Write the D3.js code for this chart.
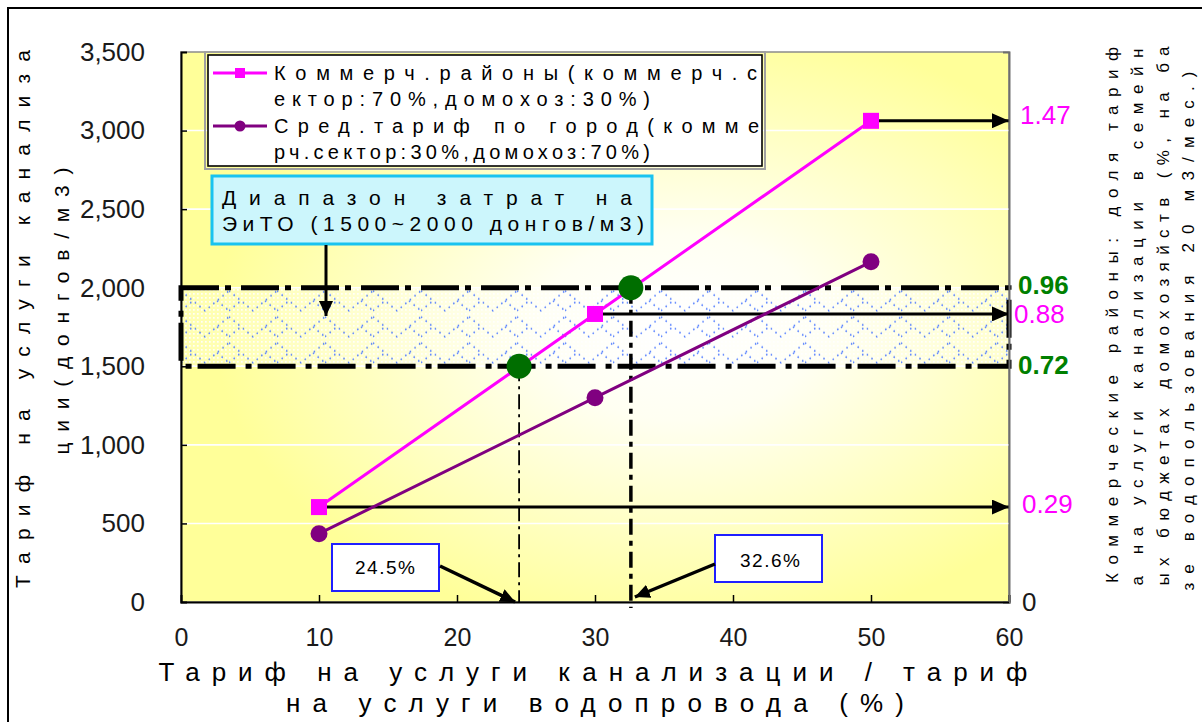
<!DOCTYPE html>
<html>
<head>
<meta charset="utf-8">
<script src="https://cdn.jsdelivr.net/npm/d3@7"></script>
<style>
  html, body { margin: 0; padding: 0; background: #fff; overflow: hidden; }
  svg { display: block; }
</style>
</head>
<body>
<svg id="chart" width="1202" height="722"></svg>
<script>
// ---- data ----
const ratioPct = [10, 30, 50];                 // sewer tariff / water tariff, %
const commercialTariff = [604, 1833, 3062];    // dong per m3
const cityTariff = [435, 1300, 2165];          // dong per m3
const commercialShare = [0.29, 0.88, 1.47];    // share of household budget, %
const costRange = [1500, 2000];                // O&M cost range, dong per m3
const costRangeShare = [0.72, 0.96];
const breakEvenPct = [24.5, 32.6];
const breakEvenLabels = ["24.5%", "32.6%"];
const shareFactor = 0.00048;                   // share (%) per dong of tariff
const yTicks = [0, 500, 1000, 1500, 2000, 2500, 3000, 3500];
const xTicks = [0, 10, 20, 30, 40, 50, 60];
const seriesNames = [
  ["Коммерч.районы(коммерч.с", "ектор:70%,домохоз:30%)"],
  ["Сред.тариф по город(комме", "рч.сектор:30%,домохоз:70%)"]
];
const rangeNote = ["Диапазон затрат на", "ЭиТО (1500~2000 донгов/м3)"];
const xTitle = ["Тариф на услуги канализации / тариф", "на услуги водопровода (%)"];
const yTitle = ["Тариф на услуги канализа", "ции(донгов/м3)"];
const y2Title = [
  "Коммерческие районы: доля тариф",
  "а на услуги канализации в семейн",
  "ых бюджетах домохозяйств (%, на ба",
  "зе водопользования 20 м3/мес.)"
];

// ---- layout ----
const FONT = "'Liberation Sans', Arial, sans-serif";
const P = { left: 181, right: 1009, top: 52, bottom: 602 };
const PINK = "#ff00ff", PURPLE = "#800080", GREEN = "#008000";

const svg = d3.select("#chart");
const x = d3.scaleLinear().domain([0, 60]).range([P.left, P.right]);
const y = d3.scaleLinear().domain([0, 3500]).range([P.bottom, P.top]);
const y2 = d3.scaleLinear().domain([0, 3500 * shareFactor]).range([P.bottom, P.top]);

const defs = svg.append("defs");

// plot background: light centre fading to yellow
const bg = defs.append("radialGradient").attr("id", "plotBg")
  .attr("cx", 0.6).attr("cy", 0.5).attr("r", 0.56);
bg.append("stop").attr("offset", 0).attr("stop-color", "#ffffff");
bg.append("stop").attr("offset", 0.3).attr("stop-color", "#fffff2");
bg.append("stop").attr("offset", 1).attr("stop-color", "#ffff99");

// band fill: fine white dot grid plus blue dotted zigzags
const dotPat = defs.append("pattern").attr("id", "whiteDots")
  .attr("patternUnits", "userSpaceOnUse").attr("width", 4).attr("height", 4);
dotPat.append("rect").attr("x", 1).attr("y", 1).attr("width", 1.7).attr("height", 1.7).attr("fill", "#ffffff");
const zigPat = defs.append("pattern").attr("id", "blueZig")
  .attr("patternUnits", "userSpaceOnUse").attr("width", 48).attr("height", 26)
  .attr("x", P.left).attr("y", y(2000));
zigPat.append("path").attr("d", "M0,3 L24,23 L48,3").attr("fill", "none")
  .attr("stroke", "#3f6fff").attr("stroke-width", 1.5).attr("stroke-dasharray", "1.5,4.5");
zigPat.append("path").attr("d", "M0,23 L12,13 M36,13 L48,23").attr("fill", "none")
  .attr("stroke", "#3f6fff").attr("stroke-width", 1.5).attr("stroke-dasharray", "1.5,4.5");

function arrowMarker(id, len, wid) {
  defs.append("marker").attr("id", id)
    .attr("viewBox", `0 0 ${len} ${wid}`)
    .attr("refX", len).attr("refY", wid / 2)
    .attr("markerWidth", len).attr("markerHeight", wid)
    .attr("markerUnits", "userSpaceOnUse").attr("orient", "auto")
    .append("path").attr("d", `M0,0L${len},${wid / 2}L0,${wid}Z`).attr("fill", "#000");
}
arrowMarker("arrowBig", 17, 15);
arrowMarker("arrowMid", 15, 14);

// outer chart border
svg.append("rect").attr("x", 8).attr("y", 8).attr("width", 1260).attr("height", 780)
  .attr("fill", "none").attr("stroke", "#000").attr("stroke-width", 2);

// plot area
svg.append("rect").attr("x", P.left).attr("y", P.top)
  .attr("width", P.right - P.left).attr("height", P.bottom - P.top)
  .attr("fill", "url(#plotBg)").attr("stroke", "#8c8c8c").attr("stroke-width", 1.5);

// white gridlines
svg.append("g").selectAll("line").data(yTicks.filter(d => d > 0 && d < 3500)).join("line")
  .attr("x1", P.left).attr("x2", P.right)
  .attr("y1", d => y(d)).attr("y2", d => y(d))
  .attr("stroke", "#ffffff").attr("stroke-width", 1.6);

// O&M cost band
const band = svg.append("g");
const bandRect = () => band.append("rect").attr("x", x(0)).attr("y", y(costRange[1]))
  .attr("width", x(60) - x(0)).attr("height", y(costRange[0]) - y(costRange[1]));
bandRect().attr("fill", "rgba(255,255,255,0.25)");
bandRect().attr("fill", "url(#whiteDots)").attr("opacity", 0.9);
bandRect().attr("fill", "url(#blueZig)");
bandRect().attr("fill", "none").attr("stroke", "#000").attr("stroke-width", 5)
  .attr("stroke-dasharray", "38,6,6,10");

// drop lines from the break-even points to the x axis
svg.append("line")
  .attr("x1", x(breakEvenPct[0])).attr("x2", x(breakEvenPct[0]))
  .attr("y1", y(costRange[0])).attr("y2", P.bottom)
  .attr("stroke", "#000").attr("stroke-width", 1.8).attr("stroke-dasharray", "15,5,3,5");
svg.append("line")
  .attr("x1", x(breakEvenPct[1])).attr("x2", x(breakEvenPct[1]))
  .attr("y1", y(costRange[1])).attr("y2", P.bottom + 6)
  .attr("stroke", "#000").attr("stroke-width", 3.5).attr("stroke-dasharray", "16,6,5,6");

// arrows from commercial points to the share axis
svg.append("g").selectAll("line").data(ratioPct).join("line")
  .attr("x1", d => x(d)).attr("x2", P.right)
  .attr("y1", (d, i) => y2(commercialShare[i])).attr("y2", (d, i) => y2(commercialShare[i]))
  .attr("stroke", "#000").attr("stroke-width", 3)
  .attr("marker-end", "url(#arrowBig)");

// series
const line = d3.line().x(d => x(d[0])).y(d => y(d[1]));
const commercialPts = ratioPct.map((d, i) => [d, commercialTariff[i]]);
const cityPts = ratioPct.map((d, i) => [d, cityTariff[i]]);

svg.append("path").datum(cityPts).attr("d", line)
  .attr("fill", "none").attr("stroke", PURPLE).attr("stroke-width", 3);
svg.append("g").selectAll("circle").data(cityPts).join("circle")
  .attr("cx", d => x(d[0])).attr("cy", d => y(d[1])).attr("r", 8.5).attr("fill", PURPLE);

svg.append("path").datum(commercialPts).attr("d", line)
  .attr("fill", "none").attr("stroke", PINK).attr("stroke-width", 3);
svg.append("g").selectAll("rect").data(commercialPts).join("rect")
  .attr("x", d => x(d[0]) - 8).attr("y", d => y(d[1]) - 8)
  .attr("width", 16).attr("height", 16).attr("fill", PINK);

// break-even points
svg.append("g").selectAll("circle").data(breakEvenPct).join("circle")
  .attr("cx", d => x(d)).attr("cy", (d, i) => y(costRange[i])).attr("r", 12.5)
  .attr("fill", "#006e00");

// axes
const yAxis = svg.append("g").attr("transform", `translate(${P.left},0)`)
  .call(d3.axisLeft(y).tickValues(yTicks).tickSize(-6).tickPadding(36).tickFormat(d3.format(",")));
const xAxis = svg.append("g").attr("transform", `translate(0,${P.bottom})`)
  .call(d3.axisBottom(x).tickValues(xTicks).tickSize(-7).tickPadding(26).tickFormat(d3.format("d")));
const y2Axis = svg.append("g").attr("transform", `translate(${P.right},0)`)
  .call(d3.axisRight(y2).tickValues([0]).tickSize(-6).tickPadding(13).tickFormat(d3.format("d")));
[yAxis, xAxis].forEach(g => {
  g.select(".domain").attr("stroke", "#000").attr("stroke-width", 2);
  g.selectAll(".tick line").attr("stroke", "#000").attr("stroke-width", 1.5);
  g.selectAll(".tick text").attr("font-family", FONT).attr("font-size", 26).attr("fill", "#1a1a1a");
});
xAxis.selectAll(".tick text").attr("font-size", 25);
y2Axis.select(".domain").attr("stroke", "#6e6e6e").attr("stroke-width", 2);
y2Axis.selectAll(".tick line").attr("stroke", "#000").attr("stroke-width", 1.5);
y2Axis.selectAll(".tick text").attr("font-family", FONT).attr("font-size", 26).attr("fill", "#1a1a1a");
xAxis.selectAll(".tick").filter(d => d === 0).select("line").remove();
yAxis.selectAll(".tick").filter(d => d === 0 || d === 3500).select("line").remove();

// share labels on the right
const rightLabels = [
  { v: commercialShare[2], t: commercialShare[2].toFixed(2), c: PINK, w: "normal", dx: 11, dy: -6 },
  { v: costRangeShare[1], t: costRangeShare[1].toFixed(2), c: GREEN, w: "bold", dx: 9, dy: -3 },
  { v: commercialShare[1], t: commercialShare[1].toFixed(2), c: PINK, w: "normal", dx: 5, dy: 0 },
  { v: costRangeShare[0], t: costRangeShare[0].toFixed(2), c: GREEN, w: "bold", dx: 9, dy: -2 },
  { v: commercialShare[0], t: commercialShare[0].toFixed(2), c: PINK, w: "normal", dx: 13, dy: -3 }
];
svg.append("g").selectAll("text").data(rightLabels).join("text")
  .attr("x", d => P.right + d.dx).attr("y", d => y2(d.v) + d.dy)
  .attr("dy", "0.36em").attr("font-family", FONT).attr("font-size", 26)
  .attr("font-weight", d => d.w).attr("fill", d => d.c).text(d => d.t);

// legend
const lg = svg.append("g");
lg.append("rect").attr("x", 205).attr("y", 52).attr("width", 560).attr("height", 117)
  .attr("fill", "none").attr("stroke", "#a0a0a0").attr("stroke-width", 2);
lg.append("rect").attr("x", 208).attr("y", 55).attr("width", 554).attr("height", 111)
  .attr("fill", "#ffffff").attr("stroke", "#000").attr("stroke-width", 1.6);
const legendRows = [
  { color: PINK, shape: "square", ys: [73, 99] },
  { color: PURPLE, shape: "circle", ys: [126, 152] }
];
const legendLens = [[483, 376], [485, 376]];
legendRows.forEach((r, i) => {
  lg.append("line").attr("x1", 213).attr("x2", 267).attr("y1", r.ys[0]).attr("y2", r.ys[0])
    .attr("stroke", r.color).attr("stroke-width", 3);
  if (r.shape === "square") {
    lg.append("rect").attr("x", 235).attr("y", r.ys[0] - 5).attr("width", 10).attr("height", 10).attr("fill", r.color);
  } else {
    lg.append("circle").attr("cx", 240).attr("cy", r.ys[0]).attr("r", 5.5).attr("fill", r.color);
  }
  seriesNames[i].forEach((t, j) => {
    lg.append("text").attr("x", 274).attr("y", r.ys[j]).attr("dy", "0.36em")
      .attr("font-family", FONT).attr("font-size", 20).attr("fill", "#000")
      .attr("textLength", legendLens[i][j]).attr("lengthAdjust", "spacing").text(t);
  });
});

// O&M range note with arrow into the band
const note = svg.append("g");
note.append("rect").attr("x", 212).attr("y", 176).attr("width", 440).attr("height", 68)
  .attr("fill", "#ccf6fc").attr("stroke", "#19c3f0").attr("stroke-width", 3);
note.selectAll("text").data(rangeNote).join("text")
  .attr("x", 222).attr("y", (d, i) => 197 + i * 26).attr("dy", "0.36em")
  .attr("font-family", FONT).attr("font-size", 21).attr("fill", "#000")
  .attr("textLength", (d, i) => [410, 422][i]).attr("lengthAdjust", "spacing")
  .text(d => d);
note.append("line").attr("x1", 326).attr("x2", 326).attr("y1", 245).attr("y2", 316)
  .attr("stroke", "#000").attr("stroke-width", 3).attr("marker-end", "url(#arrowMid)");

// break-even callouts
const callouts = [
  { box: [332, 544, 107, 47], from: [440, 566], tx: 385, ty: 567 },
  { box: [715, 535, 107, 47], from: [715, 564], tx: 770, ty: 560 }
];
callouts.forEach((c, i) => {
  svg.append("rect").attr("x", c.box[0]).attr("y", c.box[1]).attr("width", c.box[2]).attr("height", c.box[3])
    .attr("fill", "#fff").attr("stroke", "#1f1fff").attr("stroke-width", 2);
  svg.append("text").attr("x", c.tx).attr("y", c.ty).attr("dy", "0.36em")
    .attr("text-anchor", "middle").attr("font-family", FONT).attr("font-size", 19)
    .attr("textLength", 60).attr("lengthAdjust", "spacing").attr("fill", "#000")
    .text(breakEvenLabels[i]);
  svg.append("line").attr("x1", c.from[0]).attr("y1", c.from[1])
    .attr("x2", x(breakEvenPct[i]) + (i === 0 ? -4 : 4)).attr("y2", P.bottom - (i === 0 ? 0 : 5))
    .attr("stroke", "#000").attr("stroke-width", 3.5).attr("marker-end", "url(#arrowMid)");
});

// axis titles
svg.append("g").selectAll("text").data(xTitle).join("text")
  .attr("x", (d, i) => [593, 595][i]).attr("y", (d, i) => 672 + i * 31).attr("dy", "0.36em")
  .attr("text-anchor", "middle").attr("font-family", FONT).attr("font-size", 26).attr("fill", "#000")
  .attr("textLength", (d, i) => [869, 618][i]).attr("lengthAdjust", "spacing").text(d => d);

const yTitlePos = [[22, 319, 538], [61, 311, 287]];
svg.append("g").selectAll("text").data(yTitle).join("text")
  .attr("transform", (d, i) => `translate(${yTitlePos[i][0]},${yTitlePos[i][1]}) rotate(-90)`)
  .attr("dy", "0.36em").attr("text-anchor", "middle")
  .attr("font-family", FONT).attr("font-size", 21).attr("fill", "#000")
  .attr("textLength", (d, i) => yTitlePos[i][2]).attr("lengthAdjust", "spacing").text(d => d);

const y2TitlePos = [[1112, 315, 536], [1137, 317, 537], [1163, 316, 539], [1188, 331, 519]];
svg.append("g").selectAll("text").data(y2Title).join("text")
  .attr("transform", (d, i) => `translate(${y2TitlePos[i][0]},${y2TitlePos[i][1]}) rotate(-90)`)
  .attr("dy", "0.36em").attr("text-anchor", "middle")
  .attr("font-family", FONT).attr("font-size", 17).attr("fill", "#000")
  .attr("textLength", (d, i) => y2TitlePos[i][2]).attr("lengthAdjust", "spacing").text(d => d);
</script>
</body>
</html>
